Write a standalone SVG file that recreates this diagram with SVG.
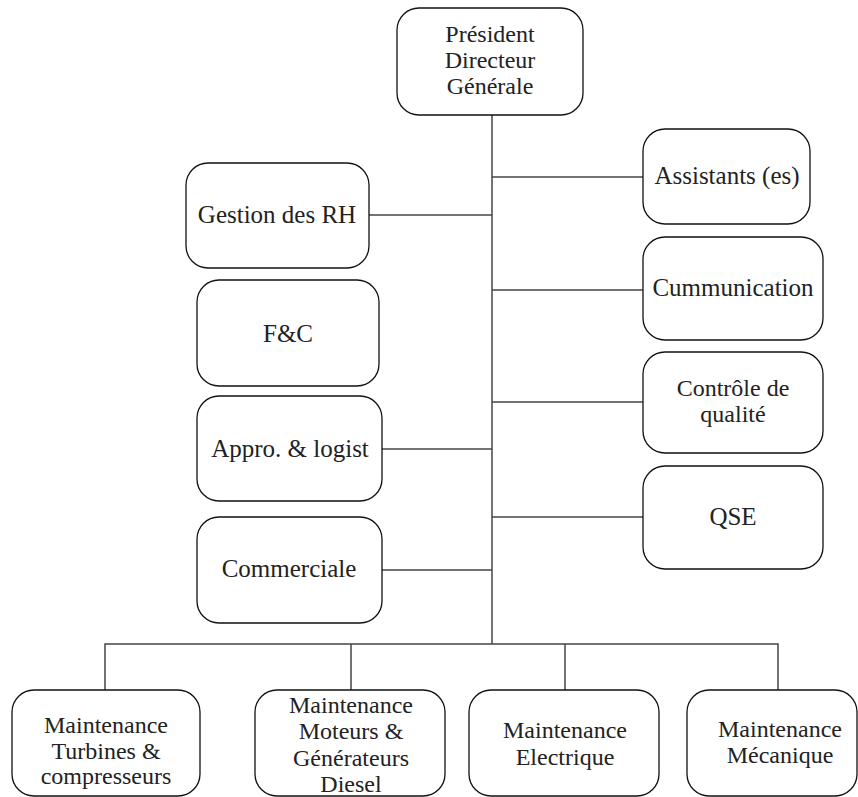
<svg xmlns="http://www.w3.org/2000/svg" width="858" height="797" viewBox="0 0 858 797">
<style>
.box{fill:#fff;stroke:#111;stroke-width:1.3}
.c{fill:none;stroke:#444;stroke-width:1.5}
text{font-family:"Liberation Serif","Times New Roman",serif;font-size:25px;fill:#222;text-anchor:middle}
text.m{font-size:24px}
</style>
<rect width="858" height="797" fill="#fff"/>
<g id="connectors">
<line class="c" x1="492" y1="115" x2="492" y2="644"/>
<line class="c" x1="492" y1="177" x2="643" y2="177"/>
<line class="c" x1="369" y1="215" x2="492" y2="215"/>
<line class="c" x1="492" y1="290" x2="643" y2="290"/>
<line class="c" x1="492" y1="402" x2="643" y2="402"/>
<line class="c" x1="382" y1="449" x2="492" y2="449"/>
<line class="c" x1="492" y1="517" x2="643" y2="517"/>
<line class="c" x1="382" y1="570" x2="492" y2="570"/>
<polyline class="c" points="105,690 105,644 778,644 778,690"/>
<line class="c" x1="351" y1="644" x2="351" y2="690"/>
<line class="c" x1="565" y1="644" x2="565" y2="690"/>
</g>
<g id="pdg"><rect class="box" x="397" y="8" width="186" height="107" rx="22"/>
<text class="m" x="490" y="42">Président</text><text class="m" x="490" y="68">Directeur</text><text class="m" x="490" y="94">Générale</text></g>
<g id="assistants"><rect class="box" x="643" y="129" width="167" height="95" rx="22"/>
<text x="727" y="184">Assistants (es)</text></g>
<g id="rh"><rect class="box" x="186" y="163" width="183" height="105" rx="22"/>
<text x="277" y="223">Gestion des RH</text></g>
<g id="communication"><rect class="box" x="643" y="237" width="180" height="103" rx="22"/>
<text x="733" y="296">Cummunication</text></g>
<g id="fc"><rect class="box" x="197" y="280" width="182" height="106" rx="22"/>
<text x="288" y="342">F&amp;C</text></g>
<g id="controle"><rect class="box" x="643" y="352" width="180" height="101" rx="22"/>
<text class="m" x="733" y="396">Contrôle de</text><text class="m" x="733" y="422">qualité</text></g>
<g id="appro"><rect class="box" x="197" y="396" width="185" height="105" rx="22"/>
<text x="290" y="457">Appro. &amp; logist</text></g>
<g id="qse"><rect class="box" x="643" y="466" width="180" height="103" rx="22"/>
<text x="733" y="525">QSE</text></g>
<g id="commerciale"><rect class="box" x="197" y="517" width="185" height="106" rx="22"/>
<text x="289" y="577">Commerciale</text></g>
<g id="m1"><rect class="box" x="12" y="690" width="188" height="106" rx="22"/>
<text class="m" x="106" y="733">Maintenance</text><text class="m" x="106" y="759">Turbines &amp;</text><text class="m" x="106" y="784">compresseurs</text></g>
<g id="m2"><rect class="box" x="255" y="690" width="190" height="106" rx="22"/>
<text class="m" x="351" y="713">Maintenance</text><text class="m" x="351" y="739">Moteurs &amp;</text><text class="m" x="351" y="766">Générateurs</text><text class="m" x="351" y="792">Diesel</text></g>
<g id="m3"><rect class="box" x="469" y="690" width="190" height="106" rx="22"/>
<text class="m" x="565" y="738">Maintenance</text><text class="m" x="565" y="765">Electrique</text></g>
<g id="m4"><rect class="box" x="687" y="690" width="170" height="106" rx="22"/>
<text class="m" x="780" y="737">Maintenance</text><text class="m" x="780" y="763">Mécanique</text></g>
</svg>
